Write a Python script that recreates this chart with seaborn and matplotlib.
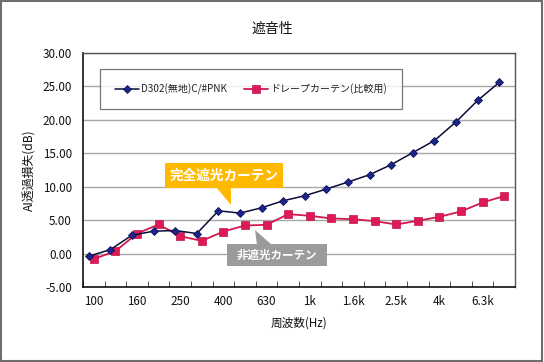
import numpy as np
import pandas as pd
import matplotlib
matplotlib.use("Agg")
import matplotlib.pyplot as plt
from matplotlib.patches import Rectangle, Polygon
import seaborn as sns

# data
freq_labels = ["100", "125", "160", "200", "250", "315", "400", "500", "630", "800",
               "1k", "1.25k", "1.6k", "2k", "2.5k", "3.15k", "4k", "5k", "6.3k", "8k"]
d302 = [-0.4, 0.6, 2.75, 3.35, 3.45, 3.0, 6.4, 6.05, 6.85, 7.9,
        8.65, 9.65, 10.7, 11.8, 13.3, 15.1, 16.9, 19.7, 22.9, 25.6]
drape = [-0.8, 0.35, 3.0, 4.35, 2.6, 1.9, 3.3, 4.2, 4.3, 5.9,
         5.65, 5.25, 5.15, 4.85, 4.35, 4.9, 5.5, 6.3, 7.65, 8.6]
series_names = ["D302(無地)C/#PNK", "ドレープカーテン(比較用)"]
y_ticks = [-5, 0, 5, 10, 15, 20, 25, 30]

W, H = 544, 362

sns.set_style("white")
plt.rcParams["font.family"] = ["Noto Sans CJK JP", "DejaVu Sans"]

fig = plt.figure(figsize=(W / 100, H / 100), dpi=100)
ax = fig.add_axes([83 / W, 1 - 287 / H, (515 - 83) / W, (287 - 53) / H])

idx = np.arange(len(freq_labels))
df = pd.DataFrame({"pos": idx, "d302": d302, "drape": drape})

# horizontal grid
for v in y_ticks:
    ax.axhline(v, color="#a8a8a8", lw=1.0, zorder=0)

sns.lineplot(x=df["pos"] - 0.23, y=df["d302"], ax=ax, color="#0c0c3a", lw=1.1,
             marker="D", markersize=4.0, markerfacecolor="#1c2490",
             markeredgecolor="#10144f", markeredgewidth=0.6, label=series_names[0], zorder=4)
sns.lineplot(x=df["pos"], y=df["drape"], ax=ax, color="#d4174f", lw=1.3,
             marker="s", markersize=6.0, markerfacecolor="#dc1a55",
             markeredgecolor="#c0134a", markeredgewidth=0.5, label=series_names[1], zorder=3)

ax.set_xlim(-0.5, len(freq_labels) - 0.5)
ax.set_ylim(-5, 30)
ax.set_yticks(y_ticks)
ax.set_yticklabels([f"{v:.2f}" for v in y_ticks])
ax.set_xticks(idx[::2])
ax.set_xticklabels(freq_labels[::2])
ax.set_xticks(np.arange(-0.5, len(freq_labels)), minor=True)
ax.tick_params(axis="x", which="major", length=0, pad=6, labelsize=8.4, colors="#111111")
ax.tick_params(axis="x", which="minor", length=4, direction="in", color="#333333", bottom=True)
ax.tick_params(axis="y", length=0, pad=8, labelsize=8.4, colors="#111111")
ax.set_xlabel("周波数(Hz)", fontsize=8.4, labelpad=6, color="#111111")
ax.set_ylabel("AI透過損失(dB)", fontsize=8.6, labelpad=4, color="#111111")

for side in ["left", "bottom"]:
    ax.spines[side].set_color("#111111")
    ax.spines[side].set_linewidth(1.2)
for side in ["top", "right"]:
    ax.spines[side].set_color("#555555")
    ax.spines[side].set_linewidth(1.0)

fig.text(272 / W, 1 - 29 / H, "遮音性", ha="center", va="center", fontsize=10, color="#111111")

leg = ax.legend(loc="upper left", bbox_to_anchor=(100 / W, 1 - 69 / H),
                bbox_transform=fig.transFigure, ncol=2, frameon=True, fancybox=False,
                fontsize=7.2, handlelength=2.4, borderpad=1.45, columnspacing=1.6,
                handletextpad=0.3, borderaxespad=0)
leg.get_frame().set_edgecolor("#555555")
leg.get_frame().set_linewidth(0.9)
leg.get_frame().set_facecolor("white")
leg.set_zorder(5)


def px(x, y):
    return (x / W, 1 - y / H)


# callouts
orange = "#ffb900"
fig.patches.append(Rectangle(px(165, 188), 118 / W, 25 / H, transform=fig.transFigure,
                             facecolor=orange, edgecolor="none", zorder=6))
fig.patches.append(Polygon([px(216, 187), px(231, 187), px(231, 205)], closed=True,
                           transform=fig.transFigure, facecolor=orange, edgecolor="none", zorder=6))
fig.text(224 / W, 1 - 176 / H, "完全遮光カーテン", ha="center", va="center",
         fontsize=9.8, fontweight="bold", color="white", zorder=7)

grey = "#9b9b9b"
fig.patches.append(Rectangle(px(227, 266), 100 / W, 22 / H, transform=fig.transFigure,
                             facecolor=grey, edgecolor="none", zorder=6))
fig.patches.append(Polygon([px(255, 230), px(257, 245), px(272, 245)], closed=True,
                           transform=fig.transFigure, facecolor=grey, edgecolor="none", zorder=6))
fig.text(277 / W, 1 - 255 / H, "非遮光カーテン", ha="center", va="center",
         fontsize=8.3, fontweight="bold", color="white", zorder=7)

# outer frame
fig.patches.append(Rectangle((0.002, 0.003), 0.995, 0.993, transform=fig.transFigure,
                             facecolor="none", edgecolor="#6e6e6e", lw=1.5, zorder=10))

fig.savefig("out.png", dpi=100)
